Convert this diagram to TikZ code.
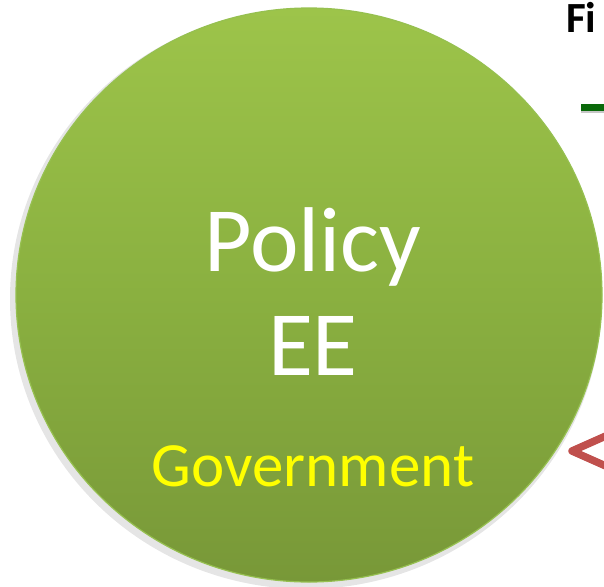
\documentclass[tikz,border=0pt]{standalone}
\usepackage{fontspec}
\setmainfont{Carlito}
\usetikzlibrary{shadings,shapes.geometric}
\definecolor{gtop}{RGB}{157,196,74}
\definecolor{gmid}{RGB}{138,176,64}
\definecolor{gbot}{RGB}{120,152,56}
\definecolor{gedge}{RGB}{150,192,80}
\definecolor{dkgreen}{RGB}{10,105,10}
\definecolor{arrred}{RGB}{192,80,77}
\definecolor{gov}{RGB}{255,255,0}
\tikzset{
  bigtxt/.style={text=white, font=\fontsize{92}{96}\selectfont, anchor=base, inner sep=0pt},
  govtxt/.style={text=gov, font=\fontsize{63}{66}\selectfont, anchor=base, inner sep=0pt},
  headtxt/.style={text=black, font=\bfseries\fontsize{43}{46}\selectfont, anchor=base west, inner sep=0pt},
  ball/.style={ellipse, minimum width=586pt, minimum height=574pt, top color=gtop, bottom color=gbot, middle color=gmid, draw=gedge, line width=1.2pt},
  chev/.style={draw=arrred, line width=7.5pt, line join=round, line cap=round},
  bar/.style={draw=dkgreen, line width=7pt}
}
\begin{document}
\begin{tikzpicture}[x=1pt,y=-1pt]
\useasboundingbox (0,0) rectangle (604,586);
\begin{scope}
\clip (0,0) rectangle (604,586);
% shadow
\fill[black!18] (307,298) ellipse (294pt and 288pt);
\fill[black!10] (306,299) ellipse (296pt and 290pt);
\node[ball] (c) at (309,295) {};
\node[bigtxt] (p) at (313,271) {Policy};
\node[bigtxt] (e) at (313,375) {EE};
\node[govtxt] (g) at (313,486) {Government};
\node[headtxt] (f) at (566,33) {Fi};
\coordinate (b1) at (581,107);
\coordinate (b2) at (610,107);
\draw[black!22, line width=7pt] ([yshift=-2.5pt]b1) -- ([yshift=-2.5pt]b2);
\draw[bar] (b1) -- (b2);
\coordinate (a1) at (608,435);
\coordinate (at) at (572,451);
\coordinate (a2) at (608,467);
\draw[chev] (a1) -- (at) -- (a2);
\end{scope}
\end{tikzpicture}
\end{document}
